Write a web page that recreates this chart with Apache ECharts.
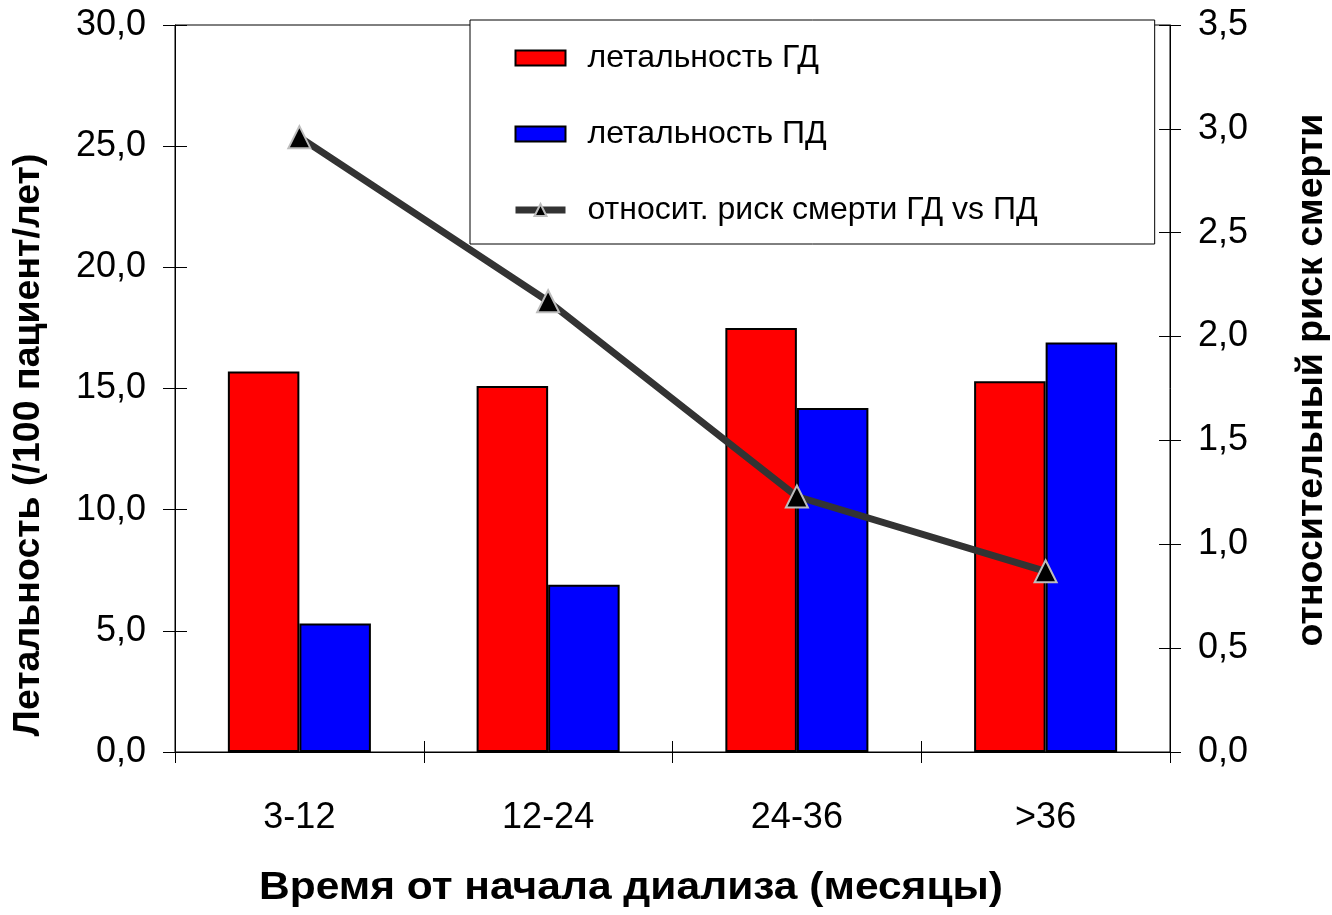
<!DOCTYPE html>
<html>
<head>
<meta charset="utf-8">
<script src="https://cdn.jsdelivr.net/npm/echarts@6/dist/echarts.min.js"></script>
<style>
  html, body { margin: 0; padding: 0; background: #fff; }
  #chart { width: 1332px; height: 915px; }
</style>
</head>
<body>
<div id="chart"></div>
<script>
// Интервалы от начала диализа (месяцы)
const categories = ['3-12', '12-24', '24-36', '>36'];
// Летальность, /100 пациент-лет
const mortalityHD = [15.7, 15.1, 17.5, 15.3];
const mortalityPD = [5.3, 6.9, 14.2, 16.9];
// Относительный риск смерти ГД vs ПД
const relativeRisk = [2.96, 2.17, 1.23, 0.87];

const seriesNames = ['летальность ГД', 'летальность ПД', 'относит. риск смерти ГД vs ПД'];
const xTitle = 'Время от начала диализа (месяцы)';
const yLeftTitle = 'Летальность (/100 пациент/лет)';
const yRightTitle = 'относительный риск смерти';

const FONT = '"Liberation Sans", Arial, sans-serif';
const comma = v => v.toFixed(1).replace('.', ',');

const chart = echarts.init(document.getElementById('chart'), null, { renderer: 'canvas' });

const tickLine = { color: '#000', width: 1 };

chart.setOption({
  backgroundColor: '#fff',
  animation: false,
  textStyle: { fontFamily: FONT },
  grid: {
    left: 175, right: 162, top: 25, bottom: 163,
    show: true, borderColor: '#000', borderWidth: 1, backgroundColor: 'transparent'
  },
  legend: {
    orient: 'vertical',
    left: 470, top: 20,
    data: [
      { name: seriesNames[0], icon: 'rect' },
      { name: seriesNames[1], icon: 'rect' },
      { name: seriesNames[2] }
    ],
    backgroundColor: '#fff',
    borderColor: '#000', borderWidth: 1,
    padding: [22, 117, 18, 42],
    itemGap: 44,
    itemWidth: 50, itemHeight: 15,
    lineStyle: { width: 7 },
    textStyle: { fontFamily: FONT, fontSize: 32, color: '#000', padding: [0, 0, 0, 17] }
  },
  xAxis: [
    {
      type: 'category', data: categories, position: 'bottom',
      axisLine: { lineStyle: tickLine },
      axisTick: { show: true, length: 11, lineStyle: tickLine },
      axisLabel: { fontFamily: FONT, fontSize: 36, color: '#000', margin: 48 }
    },
    {
      type: 'category', data: categories, position: 'bottom',
      axisLine: { show: false },
      axisTick: { show: true, inside: true, length: 11, lineStyle: tickLine },
      axisLabel: { show: false }
    }
  ],
  yAxis: [
    {
      type: 'value', position: 'left', min: 0, max: 30, interval: 5,
      axisLine: { show: true, lineStyle: tickLine },
      axisTick: { show: true, length: 12, lineStyle: tickLine },
      splitLine: { show: false },
      axisLabel: { fontFamily: FONT, fontSize: 36, color: '#000', margin: 29, formatter: comma }
    },
    {
      type: 'value', position: 'right', min: 0, max: 3.5, interval: 0.5,
      axisLine: { show: true, lineStyle: tickLine },
      axisTick: { show: true, length: 11, lineStyle: tickLine },
      splitLine: { show: false },
      axisLabel: { fontFamily: FONT, fontSize: 36, color: '#000', margin: 28, formatter: comma }
    },
    {
      type: 'value', position: 'left', min: 0, max: 30, interval: 5,
      axisLine: { show: false },
      axisTick: { show: true, inside: true, length: 12, lineStyle: tickLine },
      splitLine: { show: false },
      axisLabel: { show: false }
    },
    {
      type: 'value', position: 'right', min: 0, max: 3.5, interval: 0.5,
      axisLine: { show: false },
      axisTick: { show: true, inside: true, length: 11, lineStyle: tickLine },
      splitLine: { show: false },
      axisLabel: { show: false }
    }
  ],
  graphic: [
    {
      type: 'text', x: 631, y: 888, scaleX: 1.09,
      style: { text: xTitle, font: 'bold 39px ' + FONT, fill: '#000', align: 'center', verticalAlign: 'middle' }
    },
    {
      type: 'text', x: 29, y: 445, rotation: Math.PI / 2,
      style: { text: yLeftTitle, font: 'bold 37.5px ' + FONT, fill: '#000', align: 'center', verticalAlign: 'middle' }
    },
    {
      type: 'text', x: 1312, y: 380, rotation: Math.PI / 2,
      style: { text: yRightTitle, font: 'bold 37.5px ' + FONT, fill: '#000', align: 'center', verticalAlign: 'middle' }
    }
  ],
  series: [
    {
      name: seriesNames[0], type: 'bar', xAxisIndex: 0, yAxisIndex: 0,
      data: mortalityHD,
      barGap: '0%', barCategoryGap: '42.5%',
      itemStyle: { color: '#ff0000', borderColor: '#000', borderWidth: 2 }
    },
    {
      name: seriesNames[1], type: 'bar', xAxisIndex: 0, yAxisIndex: 0,
      data: mortalityPD,
      barGap: '0%', barCategoryGap: '42.5%',
      itemStyle: { color: '#0000ff', borderColor: '#000', borderWidth: 2 }
    },
    {
      name: seriesNames[2], type: 'line', xAxisIndex: 0, yAxisIndex: 1,
      data: relativeRisk,
      symbol: 'triangle', symbolSize: 22,
      lineStyle: { color: '#333333', width: 7 },
      itemStyle: { color: '#000', borderColor: '#bdbdbd', borderWidth: 2 },
      z: 5
    }
  ]
});
</script>
</body>
</html>
